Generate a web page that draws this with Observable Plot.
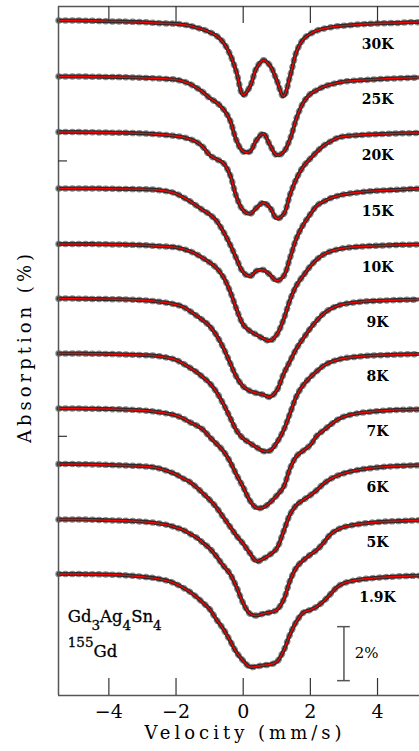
<!DOCTYPE html>
<html><head><meta charset="utf-8">
<script src="https://cdn.jsdelivr.net/npm/d3@7"></script>
<script src="https://cdn.jsdelivr.net/npm/@observablehq/plot@0.6"></script>
<style>html,body{margin:0;padding:0;background:#fff;}</style>
</head><body><div id="chart"></div>
<script>
// Temperatures, top to bottom
const temperatures = ["30K","25K","20K","15K","10K","9K","8K","7K","6K","5K","1.9K"];
// vertical offset of each spectrum's baseline (%)
const offsets = [0, 2.07, 4.13, 6.22, 8.28, 10.30, 12.33, 14.37, 16.43, 18.48, 20.5];
// velocity grid (mm/s)
const velocity = [-5.5,-5,-4.5,-4,-3.5,-3,-2.6,-2.2,-2.0,-1.8,-1.6,-1.4,-1.2,-1.0,-0.8,-0.6,-0.4,-0.2,0,0.2,0.4,0.6,0.8,1.0,1.2,1.4,1.6,1.8,2.0,2.2,2.4,2.6,2.8,3.0,3.4,3.8,4.2,4.6,5.0,5.25];
// absorption (%) of each spectrum on the velocity grid
const a30K = [0,0,0.01,0.03,0.04,0.06,0.09,0.11,0.12,0.15,0.19,0.26,0.33,0.43,0.56,0.8,1.23,1.91,2.76,2.45,1.75,1.47,1.67,2.22,2.81,2.04,1.11,0.68,0.49,0.37,0.3,0.25,0.21,0.19,0.15,0.12,0.1,0.09,0.06,0.06];
const a25K = [0,0,0.01,0.02,0.03,0.05,0.07,0.1,0.12,0.18,0.27,0.41,0.58,0.8,0.96,1.2,1.6,2.37,2.78,2.78,2.35,2.12,2.55,2.92,2.8,2.3,1.5,0.95,0.65,0.5,0.38,0.3,0.24,0.19,0.15,0.12,0.09,0.07,0.05,0.04];
const a20K = [0,0,0.01,0.02,0.03,0.05,0.08,0.12,0.15,0.19,0.26,0.36,0.55,0.85,1.0,1.14,1.56,2.4,2.9,3.03,2.8,2.62,2.8,3.2,3.05,2.3,1.69,1.26,0.98,0.72,0.5,0.35,0.22,0.16,0.12,0.09,0.07,0.05,0.04,0.03];
const a15K = [0,0,0,0.01,0.02,0.03,0.05,0.12,0.19,0.32,0.46,0.63,0.8,0.96,1.19,1.58,2.05,2.6,3.1,3.25,3.05,3.02,3.2,3.42,3.25,2.55,1.8,1.32,0.95,0.63,0.48,0.36,0.28,0.22,0.15,0.1,0.07,0.05,0.02,0.01];
const a10K = [0,0,0,0.01,0.02,0.04,0.07,0.1,0.12,0.18,0.26,0.37,0.52,0.68,0.88,1.2,1.72,2.4,2.98,3.22,3.36,3.5,3.58,3.35,2.8,2.05,1.5,1.15,0.82,0.56,0.38,0.27,0.2,0.15,0.1,0.07,0.05,0.03,0.02,0.01];
const a9K = [0,0,0.01,0.02,0.03,0.06,0.1,0.17,0.22,0.3,0.45,0.62,0.8,1.02,1.35,1.8,2.35,2.9,3.25,3.42,3.5,3.56,3.64,3.4,2.8,2.3,1.82,1.45,1.1,0.8,0.55,0.38,0.27,0.2,0.13,0.09,0.07,0.05,0.04,0.03];
const a8K = [0,0,0.01,0.02,0.04,0.06,0.09,0.17,0.24,0.37,0.52,0.68,0.88,1.1,1.42,1.85,2.35,2.85,3.15,3.32,3.48,3.62,3.6,3.3,2.85,2.2,1.55,1.15,0.88,0.65,0.45,0.32,0.24,0.18,0.12,0.08,0.06,0.04,0.03,0.02];
const a7K = [0,0,0.01,0.02,0.04,0.07,0.12,0.2,0.26,0.36,0.5,0.62,0.78,1.05,1.3,1.56,1.95,2.45,2.91,3.41,3.68,3.66,3.48,3.22,2.91,2.2,1.75,1.55,1.35,1.0,0.8,0.6,0.42,0.3,0.18,0.12,0.08,0.05,0.04,0.03];
const a6K = [0,0,0.01,0.03,0.05,0.08,0.13,0.28,0.38,0.52,0.65,0.85,1.08,1.32,1.6,1.95,2.3,2.65,2.95,3.3,3.6,3.5,3.35,3.12,2.5,1.85,1.5,1.32,1.15,0.95,0.72,0.55,0.43,0.34,0.22,0.15,0.1,0.07,0.05,0.04];
const a5K = [0,0,0.01,0.03,0.05,0.08,0.13,0.22,0.3,0.38,0.52,0.66,0.86,1.07,1.36,1.7,2.0,2.5,3.1,3.49,3.56,3.49,3.44,3.35,2.98,2.25,1.75,1.5,1.3,1.12,0.85,0.55,0.38,0.28,0.18,0.12,0.08,0.06,0.04,0.03];
const a1_9K = [0,0,0.01,0.02,0.05,0.1,0.16,0.27,0.37,0.5,0.65,0.84,1.06,1.3,1.68,2.02,2.45,2.9,3.21,3.44,3.42,3.38,3.35,3.25,2.85,2.22,1.73,1.42,1.33,1.2,1.0,0.74,0.48,0.34,0.22,0.16,0.12,0.09,0.07,0.06];
const spectra = [a30K,a25K,a20K,a15K,a10K,a9K,a8K,a7K,a6K,a5K,a1_9K];

const xTicks = [-4,-2,0,2,4];
const yTicks = [-5.2,-15.4];
const xDomain = [-5.5, 5.25];
const yDomain = [-25, 0.52];
const scaleBarV = 3;                 // mm/s
const scaleBarY = [-22.45, -24.45];  // spans 2 %
const scaleLabel = "2%";
const xLabel = "Velocity (mm/s)";
const yLabel = "Absorption (%)";
const legendLine1 = [["Gd",""],["3","sub"],["Ag",""],["4","sub"],["Sn",""],["4","sub"]];
const legendLine2 = [["155","sup"],["Gd",""]];

const rows = [];
spectra.forEach((arr, i) => arr.forEach((d, j) =>
  rows.push({T: temperatures[i], v: velocity[j], y: -(offsets[i] + d)})));

const font = "DejaVu Serif";
const frameH = 751 - 6 - 56, frameW = 419 - 58;
const chart = Plot.plot({
  width: 419, height: 751,
  marginLeft: 58, marginRight: 0, marginTop: 6, marginBottom: 56,
  x: {domain: xDomain},
  y: {domain: yDomain, axis: null},
  style: {fontFamily: font, background: "white", color: "black"},
  marks: [
    Plot.line(rows, {x: "v", y: "y", z: "T", stroke: "#000", strokeWidth: 6.5, strokeDasharray: "0.6 6.1", strokeOpacity: 0.45, curve: "catmull-rom"}),
    Plot.line(rows, {x: "v", y: "y", z: "T", stroke: "#000", strokeWidth: 4, strokeDasharray: "0.8 1.8", strokeOpacity: 0.7, curve: "catmull-rom"}),
    Plot.line(rows, {x: "v", y: "y", z: "T", stroke: "red", strokeWidth: 1.4, curve: "catmull-rom"}),
    Plot.ruleY([yDomain[0], yDomain[1]], {y: d => d, stroke: "#555", strokeWidth: 1.5}),
    Plot.ruleX([xDomain[0]], {x: d => d, stroke: "#555", strokeWidth: 1.5}),
    Plot.tickX(xTicks, {x: d => d, stroke: "#333", strokeWidth: 1.2, insetTop: frameH - 17}),
    Plot.tickX(xTicks, {x: d => d, stroke: "#333", strokeWidth: 1.2, insetBottom: frameH - 17}),
    Plot.tickY(yTicks, {y: d => d, stroke: "#333", strokeWidth: 1.2, insetRight: frameW - 9}),
    Plot.axisX(xTicks, {anchor: "bottom", tickSize: 0, tickPadding: 9, fontSize: 19, label: null}),
    Plot.text(temperatures, {x: () => 4.0, y: (d, i) => -(offsets[i] + 0.87), text: d => d, fontSize: 14, fontWeight: "bold"}),
    Plot.ruleX([scaleBarV], {x: d => d, y1: scaleBarY[0], y2: scaleBarY[1], stroke: "#555", strokeWidth: 1.5}),
    Plot.ruleY(scaleBarY, {y: d => d, x1: scaleBarV - 0.19, x2: scaleBarV + 0.19, stroke: "#555", strokeWidth: 1.5}),
    Plot.text([scaleLabel], {x: () => scaleBarV + 0.32, y: () => (scaleBarY[0] + scaleBarY[1]) / 2, text: d => d, textAnchor: "start", fontSize: 15}),
    Plot.text([xLabel], {text: d => d, frameAnchor: "bottom", textAnchor: "middle", lineAnchor: "middle", dx: 6, dy: 37.5, fontSize: 18}),
    Plot.text([yLabel], {text: d => d, frameAnchor: "left", textAnchor: "middle", lineAnchor: "middle", rotate: -90, dx: -33, dy: -4.5, fontSize: 18})
  ]
});

const svg = d3.select(chart);
svg.selectAll("text").filter(function() { return this.textContent === xLabel || this.textContent === yLabel; })
  .style("letter-spacing", "4px");

const sx = chart.scale("x"), sy = chart.scale("y");
function legend(parts, v, y) {
  const t = svg.append("text").attr("x", sx.apply(v)).attr("y", sy.apply(y))
    .attr("text-anchor", "start").attr("font-family", font).attr("fill", "black")
    .attr("stroke", "black").attr("stroke-width", 0.3);
  let shift = 0;
  parts.forEach(([s, kind]) => {
    const target = kind === "sub" ? 8 : kind === "sup" ? -10 : 0;
    t.append("tspan").attr("dy", target - shift).attr("font-size", kind ? 13.5 : 16.5).text(s);
    shift = target;
  });
}
legend(legendLine1, -5.21, -22.3);
legend(legendLine2, -5.21, -23.59);

document.getElementById("chart").appendChild(chart);
</script>
</body></html>
